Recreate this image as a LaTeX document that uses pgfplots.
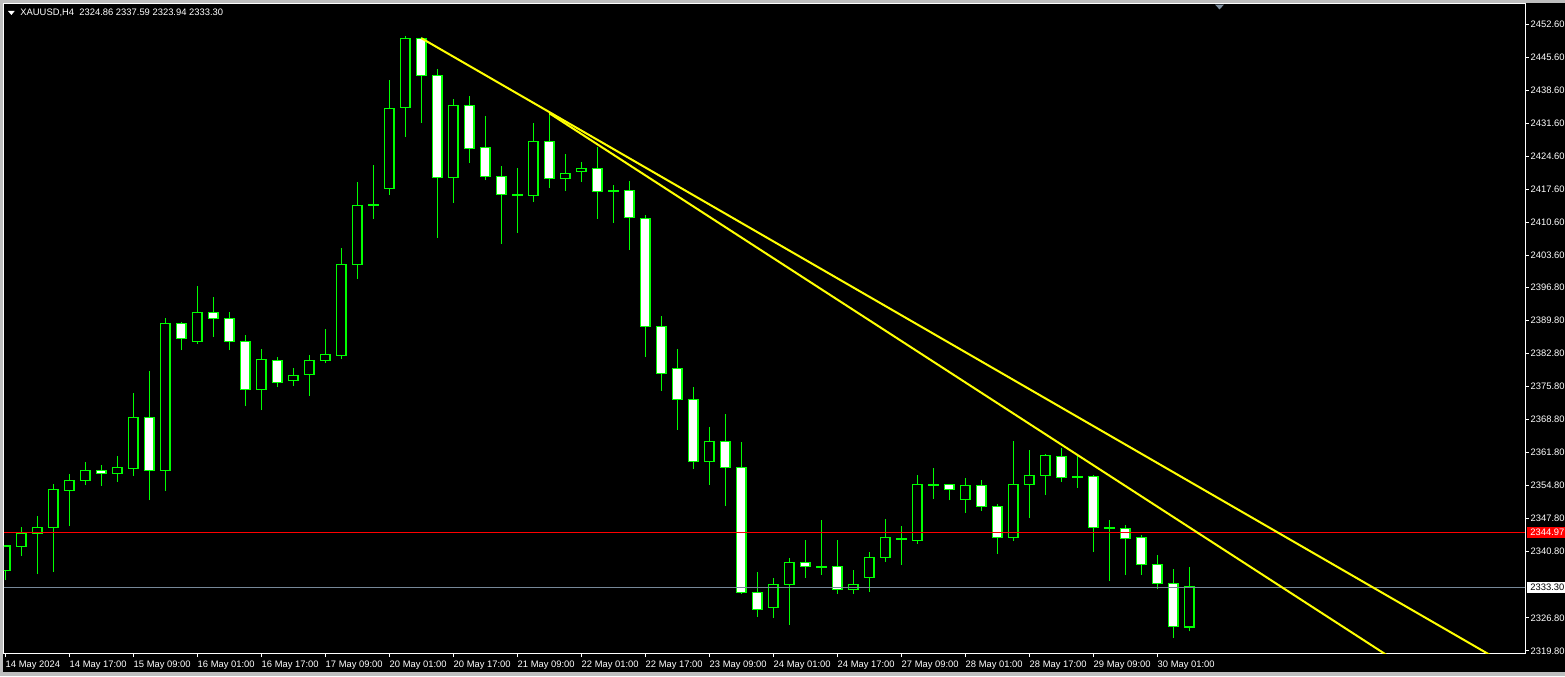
\documentclass[border=0pt]{standalone}
\usepackage{pgfplots}
\pgfplotsset{compat=1.18}
\usepackage{pgfplotstable}
\usepackage{fontspec}
\setmainfont{Liberation Sans}
\newcommand\fs{\fontsize{4.7}{5.2}\selectfont}
\definecolor{mtgreen}{RGB}{0,255,0}
\definecolor{mtyellow}{RGB}{255,255,0}
\definecolor{mtred}{RGB}{255,0,0}
\definecolor{bidgray}{RGB}{119,136,153}
\definecolor{wingray}{RGB}{190,190,190}
\definecolor{markgray}{RGB}{128,144,160}

\pgfplotstableread{
x o h l c
0 2336.77 2342.22 2334.80 2342.01
1 2341.86 2345.97 2339.89 2344.70
2 2344.70 2348.36 2336.07 2345.97
3 2345.89 2355.14 2336.56 2354.02
4 2353.72 2357.26 2346.24 2355.93
5 2355.93 2359.80 2354.93 2358.05
6 2358.05 2359.17 2354.78 2357.41
7 2357.41 2361.07 2355.63 2358.68
8 2358.47 2374.36 2356.90 2369.27
9 2369.27 2379.08 2351.75 2358.05
10 2358.05 2390.25 2353.72 2389.19
11 2389.19 2389.46 2383.53 2386.01
12 2385.29 2397.09 2384.87 2391.52
13 2391.52 2394.76 2386.35 2390.25
14 2390.25 2391.58 2383.53 2385.29
15 2385.37 2386.71 2371.67 2375.12
16 2375.12 2383.74 2370.82 2381.56
17 2381.35 2382.05 2375.69 2376.60
18 2377.03 2379.72 2375.91 2378.17
19 2378.30 2382.47 2373.79 2381.35
20 2381.27 2387.98 2380.78 2382.62
21 2382.32 2405.14 2381.63 2401.69
22 2401.69 2419.13 2398.64 2414.19
23 2414.25 2422.73 2411.35 2414.35
24 2417.79 2440.74 2416.43 2434.74
25 2434.87 2450.06 2428.72 2449.57
26 2449.57 2449.91 2431.69 2441.73
27 2441.73 2443.07 2407.32 2420.12
28 2420.12 2436.71 2414.74 2435.38
29 2435.38 2437.35 2423.21 2426.27
30 2426.48 2433.11 2419.55 2420.33
31 2420.33 2422.52 2406.05 2416.52
32 2416.38 2422.09 2408.38 2416.48
33 2416.31 2431.63 2414.95 2427.75
34 2427.75 2433.68 2417.92 2419.91
35 2419.91 2425.06 2417.28 2420.97
36 2421.39 2423.36 2419.19 2422.03
37 2422.03 2426.60 2411.35 2417.16
38 2417.33 2418.49 2410.50 2417.23
39 2417.37 2419.34 2404.78 2411.65
40 2411.44 2412.13 2382.11 2388.55
41 2388.55 2390.74 2374.91 2378.59
42 2379.66 2383.74 2366.65 2373.09
43 2373.09 2375.69 2358.38 2359.95
44 2359.95 2367.15 2354.99 2364.19
45 2364.19 2369.97 2350.54 2358.68
46 2358.68 2364.04 2331.90 2332.20
47 2332.20 2336.50 2327.03 2328.60
48 2329.02 2335.23 2326.82 2333.89
49 2333.89 2339.40 2325.33 2338.55
50 2338.55 2343.28 2335.29 2337.71
51 2337.44 2347.52 2335.93 2337.54
52 2337.71 2343.28 2331.90 2332.83
53 2332.83 2336.92 2331.90 2333.89
54 2335.37 2340.74 2332.32 2339.61
55 2339.61 2347.73 2338.68 2343.85
56 2343.50 2346.24 2338.04 2343.60
57 2343.21 2357.05 2342.49 2355.08
58 2354.94 2358.53 2352.03 2355.04
59 2355.08 2355.14 2351.75 2354.02
60 2351.90 2356.41 2349.06 2354.87
61 2354.87 2355.99 2349.49 2350.42
62 2350.42 2350.91 2340.38 2343.85
63 2343.85 2364.25 2343.13 2355.08
64 2355.08 2362.35 2348.00 2356.98
65 2356.98 2361.50 2352.87 2361.22
66 2361.01 2362.77 2355.63 2356.56
67 2356.74 2361.07 2354.36 2356.64
68 2356.77 2357.05 2340.80 2345.97
69 2345.94 2347.52 2334.66 2345.84
70 2345.76 2346.46 2335.93 2343.64
71 2343.85 2344.34 2335.93 2338.13
72 2338.13 2340.10 2332.96 2334.10
73 2334.10 2337.13 2322.58 2324.90
74 2324.86 2337.59 2323.94 2333.30
}\candles

\begin{document}
\begin{tikzpicture}
% window background
\fill[black] (-2pt,-11.5pt) rectangle (780.5pt,326.5pt);
\fill[wingray] (-2pt,325pt) rectangle (780.5pt,326.5pt);
\fill[wingray] (-2pt,-11.5pt) rectangle (-0.5pt,326.5pt);
\fill[wingray] (-2pt,-11.5pt) rectangle (780.5pt,-9.5pt);
\begin{axis}[
  at={(0,0)}, anchor=south west,
  scale only axis, width=760.5pt, height=324.5pt,
  xmin=-0.081, xmax=94.98, ymin=2319.34, ymax=2456.84,
  clip mode=individual,
  axis line style={white, line width=0.5pt},
  tick style={white, line width=0.5pt},
  tick align=outside, major tick length=2pt,
  xtick pos=lower, ytick pos=upper,
  xticklabel pos=lower, yticklabel pos=upper,
  xtick={0,4,...,72},
  xticklabels={14 May 2024,14 May 17:00,15 May 09:00,16 May 01:00,16 May 17:00,17 May 09:00,20 May 01:00,20 May 17:00,21 May 09:00,22 May 01:00,22 May 17:00,23 May 09:00,24 May 01:00,24 May 17:00,27 May 09:00,28 May 01:00,28 May 17:00,29 May 09:00,30 May 01:00},
  ytick={2452.60,2445.60,2438.60,2431.60,2424.60,2417.60,2410.60,2403.60,2396.80,2389.80,2382.80,2375.80,2368.80,2361.80,2354.80,2347.80,2340.80,2326.80,2319.80},
  yticklabels={2452.60,2445.60,2438.60,2431.60,2424.60,2417.60,2410.60,2403.60,2396.80,2389.80,2382.80,2375.80,2368.80,2361.80,2354.80,2347.80,2340.80,2326.80,2319.80},
  xticklabel style={font=\fs, text=white, anchor=north west, inner sep=0pt, yshift=-1.8pt},
  yticklabel style={font=\fs, text=white, anchor=west, inner sep=0pt, xshift=0.6pt},
  wick/.style={draw=mtgreen, line width=0.5pt},
  body/.style={draw=mtgreen, line width=0.7pt},
]
\pgfplotstablegetrowsof{\candles}
\pgfmathtruncatemacro{\lastrow}{\pgfplotsretval-1}
\pgfplotsforeachungrouped \i in {0,...,\lastrow}{%
  \pgfplotstablegetelem{\i}{x}\of\candles \let\cx\pgfplotsretval
  \pgfplotstablegetelem{\i}{o}\of\candles \let\co\pgfplotsretval
  \pgfplotstablegetelem{\i}{h}\of\candles \let\ch\pgfplotsretval
  \pgfplotstablegetelem{\i}{l}\of\candles \let\cl\pgfplotsretval
  \pgfplotstablegetelem{\i}{c}\of\candles \let\cc\pgfplotsretval
  \pgfmathsetmacro\xa{\cx-0.3}%
  \pgfmathsetmacro\xb{\cx+0.3}%
  \ifdim\cc pt>\co pt \def\bodyfill{black}\else\def\bodyfill{white}\fi
  \edef\temp{%
    \noexpand\addplot[wick] coordinates {(\cx,\cl) (\cx,\ch)};
    \noexpand\addplot[body, fill=\bodyfill] coordinates {(\xa,\co) (\xb,\co) (\xb,\cc) (\xa,\cc)} -- cycle;
  }%
  \temp
}
% ask / bid lines
\addplot[mtred, line width=0.5pt] coordinates {(-0.081,2344.97) (94.98,2344.97)};
\addplot[bidgray, line width=0.5pt] coordinates {(-0.081,2333.30) (94.98,2333.30)};
% trend lines
\addplot[mtyellow, line width=1pt] coordinates {(26,2449.6) (95,2314.6)};
\addplot[mtyellow, line width=1pt] coordinates {(34,2433.7) (95,2299.9)};
% price boxes
\node[fill=mtred, text=white, font=\fs, inner xsep=1.9pt, inner ysep=0pt, minimum height=5.5pt, anchor=west, xshift=0.6pt] at (axis cs:94.98,2344.97) {2344.97};
\node[fill=white, text=black, font=\fs, inner xsep=1.9pt, inner ysep=0pt, minimum height=5.5pt, anchor=west, xshift=0.6pt] at (axis cs:94.98,2333.30) {2333.30};
\end{axis}
% header
\fill[white] (2pt,321pt) -- (5.35pt,321pt) -- (3.7pt,319pt) -- cycle;
\node[anchor=west, inner sep=0pt, text=white, font=\fs] at (8pt,320.25pt) {XAUUSD,H4\ \ 2324.86 2337.59 2323.94 2333.30};
\fill[markgray] (605.5pt,324.15pt) -- (610pt,324.15pt) -- (607.75pt,321.85pt) -- cycle;
\pgfresetboundingbox
\path (-2pt,-11.5pt) rectangle (780.5pt,326.5pt);
\end{tikzpicture}
\end{document}
